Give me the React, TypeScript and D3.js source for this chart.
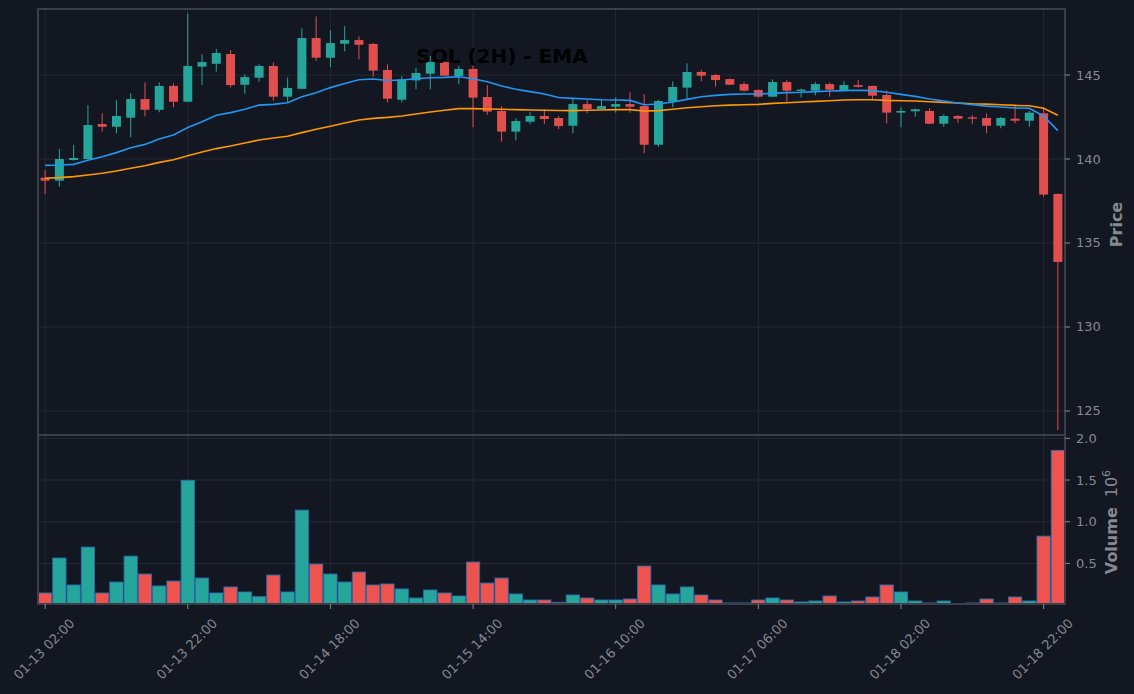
import React, { useEffect, useRef } from "react";
import { line, scaleLinear, select, Selection, ScaleLinear } from "d3";

const WIDTH = 1134;
const HEIGHT = 694;
const PLOT_LEFT = 38;
const PLOT_RIGHT = 1065;
const PRICE_TOP = 9;
const PRICE_BOTTOM = 435;
const VOLUME_BOTTOM = 604;
const BODY_WIDTH = 9;

const BG = "#131722";
const FRAME = "#3c3f47";
const GRID = "#252934";
const TEXT = "#868991";
const UP = "#26a69a";
const DOWN_CANDLE = "#e04e4e";
const DOWN_VOLUME = "#ef5350";
const VOLUME_EDGE = "#2a70b0";
const EMA_FAST_COLOR = "#2196f3";
const EMA_SLOW_COLOR = "#ff9800";
const FONT = "DejaVu Sans, sans-serif";

const TITLE = "SOL (2H) - EMA";
const X_TICK_INDEX = [0, 10, 20, 30, 40, 50, 60, 70];
const X_TICK_LABELS = [
    "01-13 02:00",
    "01-13 22:00",
    "01-14 18:00",
    "01-15 14:00",
    "01-16 10:00",
    "01-17 06:00",
    "01-18 02:00",
    "01-18 22:00",
];
const PRICE_TICKS = [125, 130, 135, 140, 145];
const VOLUME_TICKS = [0.5, 1.0, 1.5, 2.0];

// 2h candles, 01-13 02:00 .. 01-19 00:00
const opens = [
    138.89, 138.71, 139.94, 140.0, 142.08, 141.92, 142.46, 143.57, 142.93, 144.35,
    143.41, 145.5, 145.67, 146.25, 144.42, 144.84, 145.54, 143.71, 144.18, 147.2,
    146.03, 146.86, 147.08, 146.85, 145.3, 143.53, 144.68, 145.08, 145.77, 144.94,
    145.36, 143.69, 142.86, 141.63, 142.22, 142.56, 142.44, 141.98, 143.27, 142.98,
    143.11, 143.27, 143.15, 140.85, 143.41, 144.25, 145.18, 145.0, 144.76, 144.46,
    144.11, 143.71, 144.58, 144.05, 144.07, 144.46, 144.11, 144.4, 144.35, 143.81,
    142.76, 142.84, 142.86, 142.1, 142.56, 142.48, 142.44, 141.98, 142.4, 142.28,
    142.72, 137.92,
];
const highs = [
    139.35, 140.6, 140.83, 143.21, 142.72, 143.51, 143.91, 144.56, 144.56, 144.5,
    148.67, 146.23, 146.55, 146.49, 145.04, 145.64, 145.75, 144.86, 147.78, 148.49,
    147.66, 147.9, 147.3, 146.9, 145.64, 144.94, 145.42, 146.13, 145.85, 145.54,
    145.79, 144.4, 143.14, 142.42, 142.78, 142.96, 142.56, 143.59, 143.51, 143.51,
    143.67, 143.97, 143.85, 143.51, 144.62, 145.7, 145.3, 145.06, 144.8, 144.58,
    144.15, 144.74, 144.7, 144.19, 144.58, 144.55, 144.64, 144.7, 144.37, 144.07,
    143.08, 143.0, 143.02, 142.66, 142.62, 142.62, 142.72, 142.5, 143.25, 142.86,
    143.08, 137.95,
];
const lows = [
    137.92, 138.35, 139.9, 139.98, 141.63, 141.53, 141.29, 142.54, 142.78, 143.08,
    143.4, 144.4, 145.2, 144.25, 143.89, 144.6, 143.47, 143.37, 144.15, 145.85,
    145.46, 146.41, 145.93, 144.9, 143.37, 143.37, 144.15, 144.15, 144.94, 144.45,
    141.89, 142.64, 141.03, 141.11, 142.07, 142.07, 141.77, 141.53, 142.72, 142.96,
    142.76, 142.76, 140.34, 140.73, 143.08, 143.59, 144.62, 144.3, 144.4, 144.0,
    143.65, 143.68, 143.41, 143.67, 143.79, 143.71, 144.08, 144.25, 143.55, 142.12,
    141.89, 142.52, 142.07, 141.92, 142.16, 142.08, 141.53, 141.83, 142.12, 141.92,
    137.76, 123.87,
];
const closes = [
    138.71, 140.0, 140.06, 142.02, 141.92, 142.56, 143.57, 142.93, 144.35, 143.41,
    145.54, 145.77, 146.31, 144.4, 144.88, 145.54, 143.71, 144.23, 147.2, 146.03,
    146.9, 147.08, 146.8, 145.26, 143.59, 144.74, 145.12, 145.77, 144.96, 145.36,
    143.65, 142.82, 141.63, 142.26, 142.56, 142.38, 141.96, 143.27, 142.98, 143.15,
    143.27, 143.11, 140.85, 143.45, 144.29, 145.18, 144.96, 144.7, 144.42, 144.07,
    143.71, 144.58, 144.07, 144.13, 144.46, 144.13, 144.4, 144.3, 143.77, 142.76,
    142.86, 142.96, 142.1, 142.56, 142.4, 142.4, 141.98, 142.44, 142.28, 142.76,
    137.88, 133.87,
];
// volume in millions
const volumes = [
    0.146, 0.565, 0.242, 0.696, 0.146, 0.277, 0.588, 0.373, 0.23, 0.289,
    1.497, 0.325, 0.146, 0.218, 0.158, 0.102, 0.361, 0.158, 1.139, 0.493,
    0.373, 0.277, 0.397, 0.242, 0.254, 0.194, 0.086, 0.182, 0.146, 0.11,
    0.517, 0.265, 0.325, 0.134, 0.062, 0.062, 0.034, 0.122, 0.086, 0.062,
    0.062, 0.074, 0.469, 0.242, 0.134, 0.218, 0.122, 0.062, 0.026, 0.026,
    0.062, 0.086, 0.062, 0.038, 0.05, 0.11, 0.038, 0.05, 0.098, 0.242,
    0.158, 0.05, 0.026, 0.05, 0.018, 0.026, 0.074, 0.026, 0.098, 0.05,
    0.828, 1.856,
];
const emaFast = [
    139.62, 139.64, 139.68, 139.92, 140.14, 140.38, 140.67, 140.87, 141.19, 141.43,
    141.87, 142.22, 142.6, 142.76, 142.96, 143.21, 143.25, 143.35, 143.71, 143.95,
    144.25, 144.5, 144.72, 144.76, 144.67, 144.7, 144.78, 144.84, 144.86, 144.9,
    144.78, 144.6, 144.35, 144.15, 144.01, 143.87, 143.66, 143.61, 143.57, 143.53,
    143.51, 143.49, 143.23, 143.27, 143.39, 143.55, 143.71, 143.79, 143.85, 143.87,
    143.87, 143.91, 143.95, 143.97, 144.01, 144.05, 144.07, 144.09, 144.07, 143.97,
    143.85, 143.73, 143.57, 143.45, 143.33, 143.23, 143.15, 143.1, 143.04, 143.02,
    142.56, 141.69,
];
const emaSlow = [
    138.85, 138.89, 138.95, 139.05, 139.15, 139.29, 139.45, 139.6, 139.8, 139.96,
    140.2, 140.42, 140.62, 140.77, 140.95, 141.13, 141.25, 141.35, 141.57, 141.77,
    141.95, 142.14, 142.32, 142.42, 142.48, 142.56, 142.68, 142.8, 142.9, 143.0,
    143.0, 142.98, 142.96, 142.94, 142.92, 142.9, 142.89, 142.88, 142.9, 142.92,
    142.94, 142.94, 142.86, 142.88, 142.96, 143.05, 143.11, 143.17, 143.21, 143.23,
    143.25, 143.31, 143.35, 143.39, 143.43, 143.47, 143.51, 143.53, 143.53, 143.49,
    143.47, 143.45, 143.41, 143.37, 143.33, 143.29, 143.27, 143.23, 143.19, 143.17,
    143.02, 142.6,
];

type G = Selection<SVGGElement, unknown, null, undefined>;
type Scale = ScaleLinear<number, number>;

const App = () => {
    const svgRef = useRef<SVGSVGElement>(null);

    useEffect(() => {
        const svg = select(svgRef.current);
        svg.selectAll("*").remove();
        const root = svg.append("g");

        const n = closes.length;
        const x = scaleLinear().domain([-0.5, n - 0.5]).range([PLOT_LEFT, PLOT_RIGHT]);
        const yPrice = scaleLinear().domain([123.57, 148.93]).range([PRICE_BOTTOM, PRICE_TOP]);
        const yVol = scaleLinear().domain([0.014, 2.04]).range([VOLUME_BOTTOM, PRICE_BOTTOM]);

        root.append("rect").attr("width", WIDTH).attr("height", HEIGHT).attr("fill", BG);

        drawGrid(root, x, yPrice, yVol);
        drawCandles(root, x, yPrice);
        drawEma(root, x, yPrice, emaSlow, EMA_SLOW_COLOR);
        drawEma(root, x, yPrice, emaFast, EMA_FAST_COLOR);
        drawVolume(root, x, yVol);
        drawFrameAndAxes(root, x, yPrice, yVol);
    }, []);

    return (
        <svg
            ref={svgRef}
            width={WIDTH}
            height={HEIGHT}
            style={{ position: "absolute", left: 0, top: 0 }}
        />
    );
};

const drawGrid = (g: G, x: Scale, yPrice: Scale, yVol: Scale) => {
    const grid = g.append("g").attr("stroke", GRID).attr("stroke-width", 1);
    X_TICK_INDEX.forEach(i => {
        grid.append("line")
            .attr("x1", x(i)).attr("x2", x(i))
            .attr("y1", PRICE_TOP).attr("y2", VOLUME_BOTTOM);
    });
    PRICE_TICKS.forEach(p => {
        grid.append("line")
            .attr("x1", PLOT_LEFT).attr("x2", PLOT_RIGHT)
            .attr("y1", yPrice(p)).attr("y2", yPrice(p));
    });
    VOLUME_TICKS.forEach(v => {
        grid.append("line")
            .attr("x1", PLOT_LEFT).attr("x2", PLOT_RIGHT)
            .attr("y1", yVol(v)).attr("y2", yVol(v));
    });
};

const drawCandles = (g: G, x: Scale, y: Scale) => {
    const candles = g.append("g");
    closes.forEach((c, i) => {
        const o = opens[i];
        const color = c >= o ? UP : DOWN_CANDLE;
        candles.append("line")
            .attr("x1", x(i)).attr("x2", x(i))
            .attr("y1", y(highs[i])).attr("y2", y(lows[i]))
            .attr("stroke", color).attr("stroke-width", 1);
        const top = y(Math.max(o, c));
        const h = Math.max(Math.abs(y(o) - y(c)), 1.2);
        candles.append("rect")
            .attr("x", x(i) - BODY_WIDTH / 2)
            .attr("y", top)
            .attr("width", BODY_WIDTH)
            .attr("height", h)
            .attr("fill", color);
    });
};

const drawEma = (g: G, x: Scale, y: Scale, values: number[], color: string) => {
    const path = line<number>()
        .x((_, i) => x(i))
        .y(d => y(d));
    g.append("path")
        .attr("d", path(values))
        .attr("fill", "none")
        .attr("stroke", color)
        .attr("stroke-width", 1.6);
};

const drawVolume = (g: G, x: Scale, y: Scale) => {
    const bars = g.append("g");
    const step = x(1) - x(0);
    volumes.forEach((v, i) => {
        const up = closes[i] >= opens[i];
        bars.append("rect")
            .attr("x", x(i) - step / 2 + 0.5)
            .attr("y", y(v))
            .attr("width", step - 1)
            .attr("height", Math.max(VOLUME_BOTTOM - y(v), 0))
            .attr("fill", up ? UP : DOWN_VOLUME)
            .attr("stroke", VOLUME_EDGE)
            .attr("stroke-width", 0.9);
    });
};

const drawFrameAndAxes = (g: G, x: Scale, yPrice: Scale, yVol: Scale) => {
    const frame = g.append("g").attr("fill", "none").attr("stroke", FRAME).attr("stroke-width", 2);
    frame.append("rect")
        .attr("x", PLOT_LEFT).attr("y", PRICE_TOP)
        .attr("width", PLOT_RIGHT - PLOT_LEFT).attr("height", PRICE_BOTTOM - PRICE_TOP);
    frame.append("rect")
        .attr("x", PLOT_LEFT).attr("y", PRICE_BOTTOM)
        .attr("width", PLOT_RIGHT - PLOT_LEFT).attr("height", VOLUME_BOTTOM - PRICE_BOTTOM);

    const axis = g.append("g").attr("font-family", FONT).attr("font-size", 13).attr("fill", TEXT);

    const rightTicks = [
        ...PRICE_TICKS.map(p => ({ y: yPrice(p), label: String(p) })),
        ...VOLUME_TICKS.map(v => ({ y: yVol(v), label: v.toFixed(1) })),
    ];
    rightTicks.forEach(t => {
        axis.append("line")
            .attr("x1", PLOT_RIGHT).attr("x2", PLOT_RIGHT + 5)
            .attr("y1", t.y).attr("y2", t.y)
            .attr("stroke", TEXT).attr("stroke-width", 1);
        axis.append("text")
            .attr("x", PLOT_RIGHT + 11)
            .attr("y", t.y)
            .attr("dominant-baseline", "central")
            .text(t.label);
    });

    X_TICK_INDEX.forEach((idx, k) => {
        axis.append("line")
            .attr("x1", x(idx)).attr("x2", x(idx))
            .attr("y1", VOLUME_BOTTOM).attr("y2", VOLUME_BOTTOM + 5)
            .attr("stroke", TEXT).attr("stroke-width", 1);
        axis.append("text")
            .attr("transform", `translate(${x(idx) - 1},649) rotate(-45)`)
            .attr("text-anchor", "middle")
            .attr("dominant-baseline", "central")
            .text(X_TICK_LABELS[k]);
    });

    g.append("text")
        .attr("transform", "translate(1122,224.5) rotate(-90)")
        .attr("text-anchor", "middle")
        .attr("font-family", FONT)
        .attr("font-size", 16)
        .attr("font-weight", "bold")
        .attr("fill", TEXT)
        .text("Price");

    const volLabel = g.append("text")
        .attr("transform", "translate(1117,522) rotate(-90)")
        .attr("text-anchor", "middle")
        .attr("font-family", FONT)
        .attr("font-size", 16)
        .attr("fill", TEXT);
    volLabel.append("tspan").attr("font-weight", "bold").text("Volume");
    volLabel.append("tspan").attr("dx", 10).text("10");
    volLabel.append("tspan").attr("font-size", 11).attr("dy", -7).text("6");

    g.append("text")
        .attr("x", 502)
        .attr("y", 63)
        .attr("text-anchor", "middle")
        .attr("font-family", FONT)
        .attr("font-size", 20)
        .attr("font-weight", "bold")
        .attr("fill", "#000000")
        .text(TITLE);
};

export default App;
